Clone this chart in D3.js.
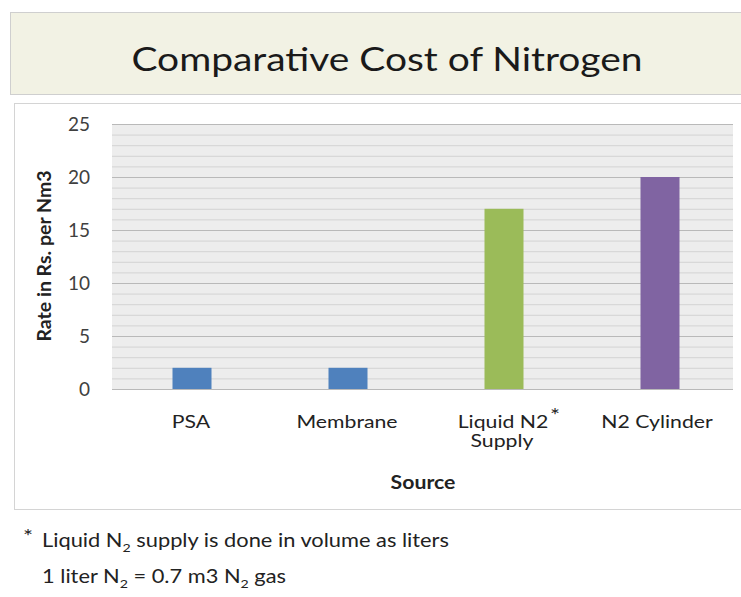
<!DOCTYPE html>
<html>
<head>
<meta charset="utf-8">
<script src="https://cdn.jsdelivr.net/npm/d3@7"></script>
<style>
  body { margin: 0; background: #fff; }
  svg { display: block; font-family: Lato, "Open Sans", sans-serif; }
</style>
</head>
<body>
<svg></svg>
<script>
const categories = ["PSA", "Membrane", "Liquid N2", "N2 Cylinder"];
const values = [2, 2, 17, 20];
const colors = ["#4f81bd", "#4f81bd", "#9bbb59", "#8064a2"];
const y_ticks = [0, 5, 10, 15, 20, 25];

const width = 741, height = 597;
const margin = { left: 112, right: 8, top: 124, bottom: 208 };
// the source picture is a little wider than tall, so text gets a horizontal stretch
const sx = 1.18;

const svg = d3.select("svg").attr("width", width).attr("height", height);

// text placed at (x, y) and stretched sideways
function stext(parent, x, y, size, anchor) {
  return parent.append("g")
    .attr("transform", `translate(${x},${y}) scale(${sx},1)`)
    .append("text")
    .attr("text-anchor", anchor || "middle")
    .style("font-size", size + "px")
    .attr("fill", "#222");
}

// Title box
svg.append("rect")
  .attr("x", 10.5).attr("y", 12.5)
  .attr("width", 740).attr("height", 82)
  .attr("fill", "#f2f2e4")
  .attr("stroke", "#cfcfcf");

stext(svg, 387, 71, 33)
  .attr("fill", "#1a1a1a")
  .text("Comparative Cost of Nitrogen");

// Chart box
svg.append("rect")
  .attr("x", 14.5).attr("y", 103.5)
  .attr("width", 740).attr("height", 406)
  .attr("fill", "#fff")
  .attr("stroke", "#d4d4d4");

const plot_right = width - margin.right;
const plot_bottom = height - margin.bottom;

const x_scale = d3.scaleBand()
  .domain(categories)
  .range([114, 738])
  .paddingInner(0.75)
  .paddingOuter(0.375);

const y_scale = d3.scaleLinear()
  .domain([0, 25])
  .range([plot_bottom, margin.top]);

// Plot background
svg.append("rect")
  .attr("x", margin.left).attr("y", margin.top)
  .attr("width", plot_right - margin.left)
  .attr("height", plot_bottom - margin.top)
  .attr("fill", "#ededed");

// Minor gridlines
svg.append("g")
  .attr("transform", `translate(${margin.left},0)`)
  .call(d3.axisLeft(y_scale)
    .tickValues(d3.range(0, 26, 1).filter(d => d % 5 !== 0))
    .tickSize(-(plot_right - margin.left))
    .tickFormat(""))
  .call(g => g.select(".domain").remove())
  .call(g => g.selectAll("line").attr("stroke", "#d3d3d3"));

// Major gridlines + labels
svg.append("g")
  .attr("transform", `translate(${margin.left},0)`)
  .call(d3.axisLeft(y_scale)
    .tickValues(y_ticks)
    .tickSize(-(plot_right - margin.left))
    .tickPadding(22))
  .call(g => g.select(".domain").remove())
  .call(g => g.selectAll("line").attr("stroke", "#b9b9b9"))
  .call(g => g.selectAll("text")
    .attr("fill", "#404040")
    .style("font-size", "19px")
    .style("font-family", "Lato, 'Open Sans', sans-serif"));

// Bars
svg.append("g")
  .selectAll("rect")
  .data(categories)
  .join("rect")
  .attr("x", d => x_scale(d))
  .attr("y", (d, i) => y_scale(values[i]))
  .attr("width", x_scale.bandwidth())
  .attr("height", (d, i) => y_scale(0) - y_scale(values[i]))
  .attr("fill", (d, i) => colors[i]);

// X labels
categories.forEach((c, i) => {
  const cx = x_scale(c) + x_scale.bandwidth() / 2;
  stext(svg, cx - (i === 2 ? 1 : i === 3 ? 3 : 1), 428, 18).text(c);
  if (i === 2) {
    stext(svg, cx + 51, 422, 20).text("*");
    stext(svg, cx - 2, 447, 18).text("Supply");
  }
});

// Axis titles
stext(svg, 423, 489, 18)
  .style("font-weight", "bold")
  .text("Source");

svg.append("text")
  .attr("transform", "translate(51,256) rotate(-90)")
  .attr("text-anchor", "middle")
  .style("font-size", "19.5px")
  .style("font-weight", "bold")
  .attr("fill", "#222")
  .text("Rate in Rs. per Nm3");

// Footnote
stext(svg, 23, 543, 20, "start").text("*");

const line1 = stext(svg, 42, 547, 18.5, "start");
line1.append("tspan").text("Liquid N");
line1.append("tspan").style("font-size", "12px").attr("dy", 5).text("2");
line1.append("tspan").attr("dy", -5).text(" supply is done in volume as liters");

const line2 = stext(svg, 42, 583, 18.5, "start");
line2.append("tspan").text("1 liter N");
line2.append("tspan").style("font-size", "12px").attr("dy", 5).text("2");
line2.append("tspan").attr("dy", -5).text(" = 0.7 m3 N");
line2.append("tspan").style("font-size", "12px").attr("dy", 5).text("2");
line2.append("tspan").attr("dy", -5).text(" gas");
</script>
</body>
</html>
